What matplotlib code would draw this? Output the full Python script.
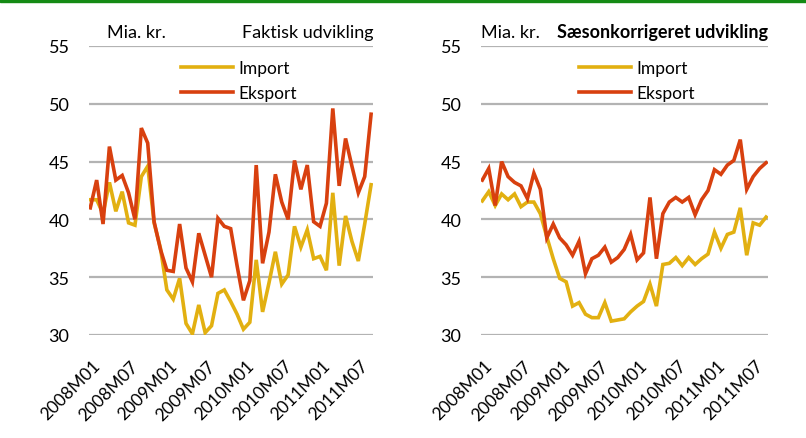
import matplotlib
matplotlib.use("Agg")
import matplotlib.pyplot as plt
from matplotlib.patches import Rectangle
from matplotlib.transforms import ScaledTranslation

plt.rcParams['font.family'] = ['Liberation Sans Narrow', 'Lato', 'DejaVu Sans']

# months 2008M01 .. 2011M09
months = []
for yr in range(2008, 2012):
    for m in range(1, 13):
        months.append("%dM%02d" % (yr, m))
months = months[:45]

tick_labels = ["2008M01", "2008M07", "2009M01", "2009M07",
               "2010M01", "2010M07", "2011M01", "2011M07"]

# Faktisk udvikling (mia. kr.)
import_raw = [41.7, 41.7, 40.5, 43.2, 40.7, 42.4, 39.7, 39.5, 43.7, 44.6,
              39.7, 37.5, 33.9, 33.1, 34.9, 31.0, 30.1, 32.6, 30.2, 30.8,
              33.6, 33.9, 32.9, 31.8, 30.5, 31.1, 36.5, 32.0, 34.5, 37.2,
              34.4, 35.2, 39.4, 37.6, 39.1, 36.6, 36.8, 35.6, 42.3, 36.0,
              40.3, 38.1, 36.4, 39.6, 43.0]
export_raw = [41.0, 43.4, 39.6, 46.3, 43.4, 43.8, 42.3, 40.0, 47.9, 46.6,
              39.8, 37.4, 35.6, 35.5, 39.6, 35.8, 34.6, 38.8, 36.9, 35.0,
              40.1, 39.4, 39.2, 36.0, 33.0, 34.7, 44.7, 36.2, 38.9, 43.9,
              41.5, 40.0, 45.1, 42.6, 44.7, 39.8, 39.4, 41.4, 49.6, 42.9,
              47.0, 44.6, 42.3, 43.7, 49.1]

# Saesonkorrigeret udvikling (mia. kr.)
import_sa = [41.6, 42.4, 41.2, 42.2, 41.7, 42.2, 41.1, 41.5, 41.5, 40.5,
             38.5, 36.6, 34.9, 34.6, 32.5, 32.8, 31.8, 31.5, 31.5, 32.8,
             31.2, 31.3, 31.4, 32.0, 32.5, 32.9, 34.4, 32.5, 36.1, 36.2,
             36.7, 36.0, 36.7, 36.1, 36.6, 37.0, 38.9, 37.5, 38.7, 38.9,
             41.0, 36.9, 39.7, 39.5, 40.2]
export_sa = [43.4, 44.4, 41.2, 45.0, 43.7, 43.2, 42.9, 41.8, 44.0, 42.6,
             38.4, 39.6, 38.4, 37.8, 36.9, 38.1, 35.3, 36.6, 36.9, 37.6,
             36.3, 36.7, 37.4, 38.7, 36.5, 37.1, 41.9, 36.6, 40.5, 41.5,
             41.9, 41.5, 41.9, 40.4, 41.7, 42.5, 44.3, 43.9, 44.7, 45.1,
             46.9, 42.6, 43.7, 44.4, 44.9]

import_color = "#E2B011"
export_color = "#D8400F"
grid_color = "#B3B3B3"

fig = plt.figure(figsize=(8.06, 4.39), dpi=100)
fig.patches.append(Rectangle((0, 1 - 3 / 439), 1, 3 / 439, transform=fig.transFigure,
                             color="#148A14", zorder=10))

ax1 = fig.add_axes([89 / 806, 1 - 336 / 439, 284 / 806, 289 / 439])
ax2 = fig.add_axes([481 / 806, 1 - 336 / 439, 287 / 806, 289 / 439])

panels = [
    (ax1, import_raw, export_raw, "Faktisk udvikling", 0.063, "normal", 0.32),
    (ax2, import_sa, export_sa, "Sæsonkorrigeret udvikling", 0.0, "bold", 0.338),
]

x = list(range(len(months)))
tick_pos = [months.index(t) for t in tick_labels]
shift = ScaledTranslation(2 / 100, 0, fig.dpi_scale_trans)

for ax, imp, exp, title, unit_x, title_weight, leg_x in panels:
    ax.plot(x, imp, color=import_color, lw=2.6, label="Import", solid_joinstyle="miter")
    ax.plot(x, exp, color=export_color, lw=2.6, label="Eksport", solid_joinstyle="miter")
    ax.set_ylim(30, 55)
    ax.set_xlim(-0.2, 44.3)
    ax.set_yticks([30, 35, 40, 45, 50, 55])
    ax.yaxis.grid(True, color=grid_color, lw=1.6)
    ax.set_axisbelow(True)
    for s in ax.spines.values():
        s.set_visible(False)
    ax.tick_params(axis="y", length=0, pad=14, labelsize=13)
    ax.set_xticks(tick_pos)
    ax.set_xticklabels(tick_labels, rotation=45, ha="right", rotation_mode="anchor",
                       fontsize=12.5)
    ax.tick_params(axis="x", length=0, pad=16)
    for lab in ax.get_xticklabels():
        lab.set_transform(lab.get_transform() + shift)
    ax.text(unit_x, 1.031, "Mia. kr.", transform=ax.transAxes, fontsize=13,
            va="baseline", ha="left")
    ax.text(1.0, 1.031, title, transform=ax.transAxes, fontsize=13,
            va="baseline", ha="right", weight=title_weight)
    ax.legend(loc="upper left", bbox_to_anchor=(leg_x - 0.02, 0.976), frameon=False,
              fontsize=12.5, handlelength=3.0, handletextpad=0.3, labelspacing=0.53,
              borderaxespad=0)

fig.savefig("out.png", dpi=100)
